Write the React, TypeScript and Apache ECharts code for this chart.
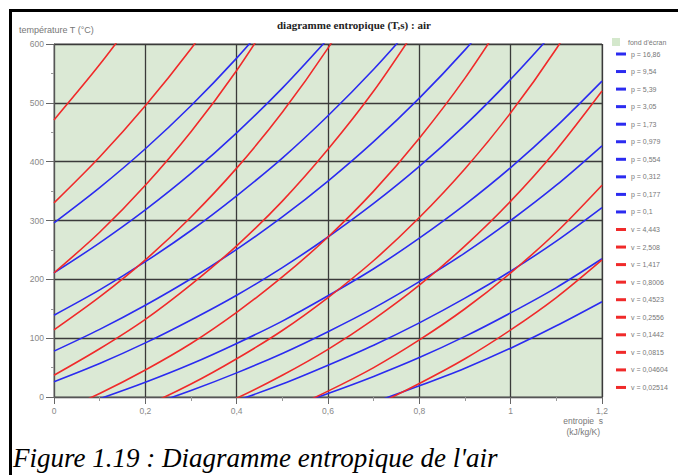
import React, { useEffect, useRef } from "react";
import * as echarts from "echarts";

// entropy s (kJ/kg/K) sample positions
const entropy = [0, 0.1, 0.2, 0.3, 0.4, 0.5, 0.6, 0.7, 0.8, 0.9, 1.0, 1.1, 1.2];

// isobars (blue) : temperature T (°C) at each entropy, null = outside the chart
const isobarNames = ["p = 16,86", "p = 9,54", "p = 5,39", "p = 3,05", "p = 1,73", "p = 0,979", "p = 0,554", "p = 0,312", "p = 0,177", "p = 0,1"];
const p1686 = [296, 356, 422, 495, 576, 665, null, null, null, null, null, null, null];
const p954 = [211, 262, 318, 380, 449, 525, 609, null, null, null, null, null, null];
const p539 = [139, 182, 230, 283, 342, 406, 478, 557, 644, null, null, null, null];
const p305 = [78, 115, 156, 201, 251, 306, 367, 434, 508, 590, 681, null, null];
const p173 = [26, 57, 92, 131, 173, 220, 272, 329, 392, 462, 540, 625, null];
const p0979 = [-29, -3, 25, 56, 91, 129, 172, 218, 270, 327, 390, 460, 537];
const p0554 = [null, -40, -16, 11, 41, 74, 111, 151, 196, 245, 300, 360, 427];
const p0312 = [null, null, null, -31, -6, 22, 54, 88, 126, 168, 214, 265, 322];
const p0177 = [null, null, null, null, -45, -21, 6, 35, 67, 103, 143, 186, 235];
const p01 = [null, null, null, null, null, null, -34, -9, 19, 49, 83, 121, 162];

// isochores (red)
const isochoreNames = ["v = 4,443", "v = 2,508", "v = 1,417", "v = 0,8006", "v = 0,4523", "v = 0,2556", "v = 0,1442", "v = 0,0815", "v = 0,04604", "v = 0,02514"];
const v4443 = [null, null, null, null, null, null, -47, -15, 23, 65, 114, 169, 233];
const v2508 = [null, null, null, null, -57, -26, 10, 50, 97, 150, 211, 280, 360];
const v1417 = [null, null, null, -36, -2, 37, 81, 132, 190, 257, 333, 420, 520];
const v08006 = [null, -47, -15, 22, 65, 113, 169, 232, 305, 388, 483, 592, 716];
const v04523 = [-29, 6, 46, 91, 144, 204, 272, 350, 440, 542, 659, null, null];
const v02556 = [37, 82, 132, 191, 257, 333, 421, 520, 634, null, null, null, null];
const v01442 = [114, 170, 233, 306, 389, 484, 593, 717, null, null, null, null, null];
const v00815 = [211, 280, 360, 451, 555, 674, null, null, null, null, null, null, null];
const v004604 = [330, 408, 495, 592, 700, null, null, null, null, null, null, null, null];
const v002514 = [471, 565, 668, null, null, null, null, null, null, null, null, null, null];

const isobars = [p1686, p954, p539, p305, p173, p0979, p0554, p0312, p0177, p01];
const isochores = [v4443, v2508, v1417, v08006, v04523, v02556, v01442, v00815, v004604, v002514];

const yTicks = { min: 0, max: 600, interval: 100 };
const xTicks = { min: 0, max: 1.2, interval: 0.2 };

const BLUE = "#2b2bf0";
const RED = "#f02a2a";

function toPoints(vals: (number | null)[]) {
  const pts: number[][] = [];
  vals.forEach((v, i) => {
    if (v !== null) pts.push([entropy[i], v]);
  });
  return pts;
}

export default function App() {
  const ref = useRef<HTMLDivElement>(null);
  useEffect(() => {
    if (!ref.current) return;
    const chart = echarts.init(ref.current, null, { renderer: "svg" });
    const series: any[] = [];
    isobars.forEach((vals, i) => {
      series.push({
        name: isobarNames[i],
        type: "line",
        data: toPoints(vals),
        smooth: 0.3,
        showSymbol: false,
        symbol: "none",
        clip: true,
        color: BLUE,
        lineStyle: { color: BLUE, width: 1.6 },
      });
    });
    isochores.forEach((vals, i) => {
      series.push({
        name: isochoreNames[i],
        type: "line",
        data: toPoints(vals),
        smooth: 0.3,
        showSymbol: false,
        symbol: "none",
        clip: true,
        color: RED,
        lineStyle: { color: RED, width: 1.6 },
      });
    });
    const fmt = (v: number) => String(Math.round(v * 10) / 10).replace(".", ",");
    chart.setOption({
      animation: false,
      backgroundColor: "#ffffff",
      textStyle: { fontFamily: "Liberation Sans, Arial, sans-serif" },
      grid: {
        left: 54,
        top: 44,
        right: 76,
        bottom: 78,
        show: true,
        backgroundColor: "#dbe9d5",
        borderColor: "#777",
        borderWidth: 1,
      },
      xAxis: {
        type: "value",
        min: xTicks.min,
        max: xTicks.max,
        interval: xTicks.interval,
        axisLine: { show: true, onZero: false, lineStyle: { color: "#555", width: 1 } },
        axisTick: { show: true, length: 7, lineStyle: { color: "#666" } },
        minorTick: { show: true, splitNumber: 2, length: 4, lineStyle: { color: "#999" } },
        axisLabel: { fontSize: 8.5, color: "#888", margin: 9, formatter: fmt },
        splitLine: { show: true, lineStyle: { color: "#3a3a3a", width: 1.3 } },
      },
      yAxis: {
        type: "value",
        min: yTicks.min,
        max: yTicks.max,
        interval: yTicks.interval,
        axisLine: { show: true, lineStyle: { color: "#555", width: 1 } },
        axisTick: { show: true, length: 8, lineStyle: { color: "#666" } },
        minorTick: { show: true, splitNumber: 2, length: 3, lineStyle: { color: "#999" } },
        axisLabel: { fontSize: 8.5, color: "#888", margin: 10 },
        splitLine: { show: true, lineStyle: { color: "#3a3a3a", width: 1.3 } },
      },
      legend: {
        orient: "vertical",
        left: 611,
        top: 45,
        icon: "rect",
        itemWidth: 10,
        itemHeight: 3,
        itemGap: 9.55,
        textStyle: { fontSize: 7, color: "#777", lineHeight: 8, padding: [0, 0, 0, 0] },
        data: [...isobarNames, ...isochoreNames],
        selectedMode: false,
      },
      graphic: [
        { type: "rect", shape: { x: 9, y: 9, width: 669, height: 3 }, style: { fill: "#000" } },
        { type: "rect", shape: { x: 9, y: 9, width: 3, height: 466 }, style: { fill: "#000" } },
        {
          type: "text",
          x: 277,
          y: 25,
          style: {
            text: "diagramme entropique (T,s) : air",
            font: "bold 11px 'Liberation Serif', serif",
            fill: "#222",
            verticalAlign: "middle",
          },
        },
        {
          type: "text",
          x: 19,
          y: 30,
          style: {
            text: "température T (°C)",
            font: "9px 'Liberation Sans', sans-serif",
            fill: "#777",
            verticalAlign: "middle",
          },
        },
        {
          type: "text",
          x: 603,
          y: 421,
          style: {
            text: "entropie  s",
            font: "8.5px 'Liberation Sans', sans-serif",
            fill: "#777",
            align: "right",
            verticalAlign: "middle",
          },
        },
        {
          type: "text",
          x: 600,
          y: 432,
          style: {
            text: "(kJ/kg/K)",
            font: "8.5px 'Liberation Sans', sans-serif",
            fill: "#777",
            align: "right",
            verticalAlign: "middle",
          },
        },
        { type: "rect", shape: { x: 612, y: 38, width: 8, height: 8 }, style: { fill: "#d4e8cc" } },
        {
          type: "text",
          x: 628,
          y: 42,
          style: {
            text: "fond d'écran",
            font: "7px 'Liberation Sans', sans-serif",
            fill: "#777",
            verticalAlign: "middle",
          },
        },
        {
          type: "text",
          x: 13,
          y: 458,
          style: {
            text: "Figure 1.19 : Diagramme entropique de l'air",
            font: "italic 27px 'Liberation Serif', 'Times New Roman', serif",
            fill: "#000",
            verticalAlign: "middle",
          },
        },
      ],
      series,
    });
    return () => chart.dispose();
  }, []);
  return (
    <div
      ref={ref}
      style={{ position: "fixed", left: 0, top: 0, width: 678, height: 475 }}
    />
  );
}
